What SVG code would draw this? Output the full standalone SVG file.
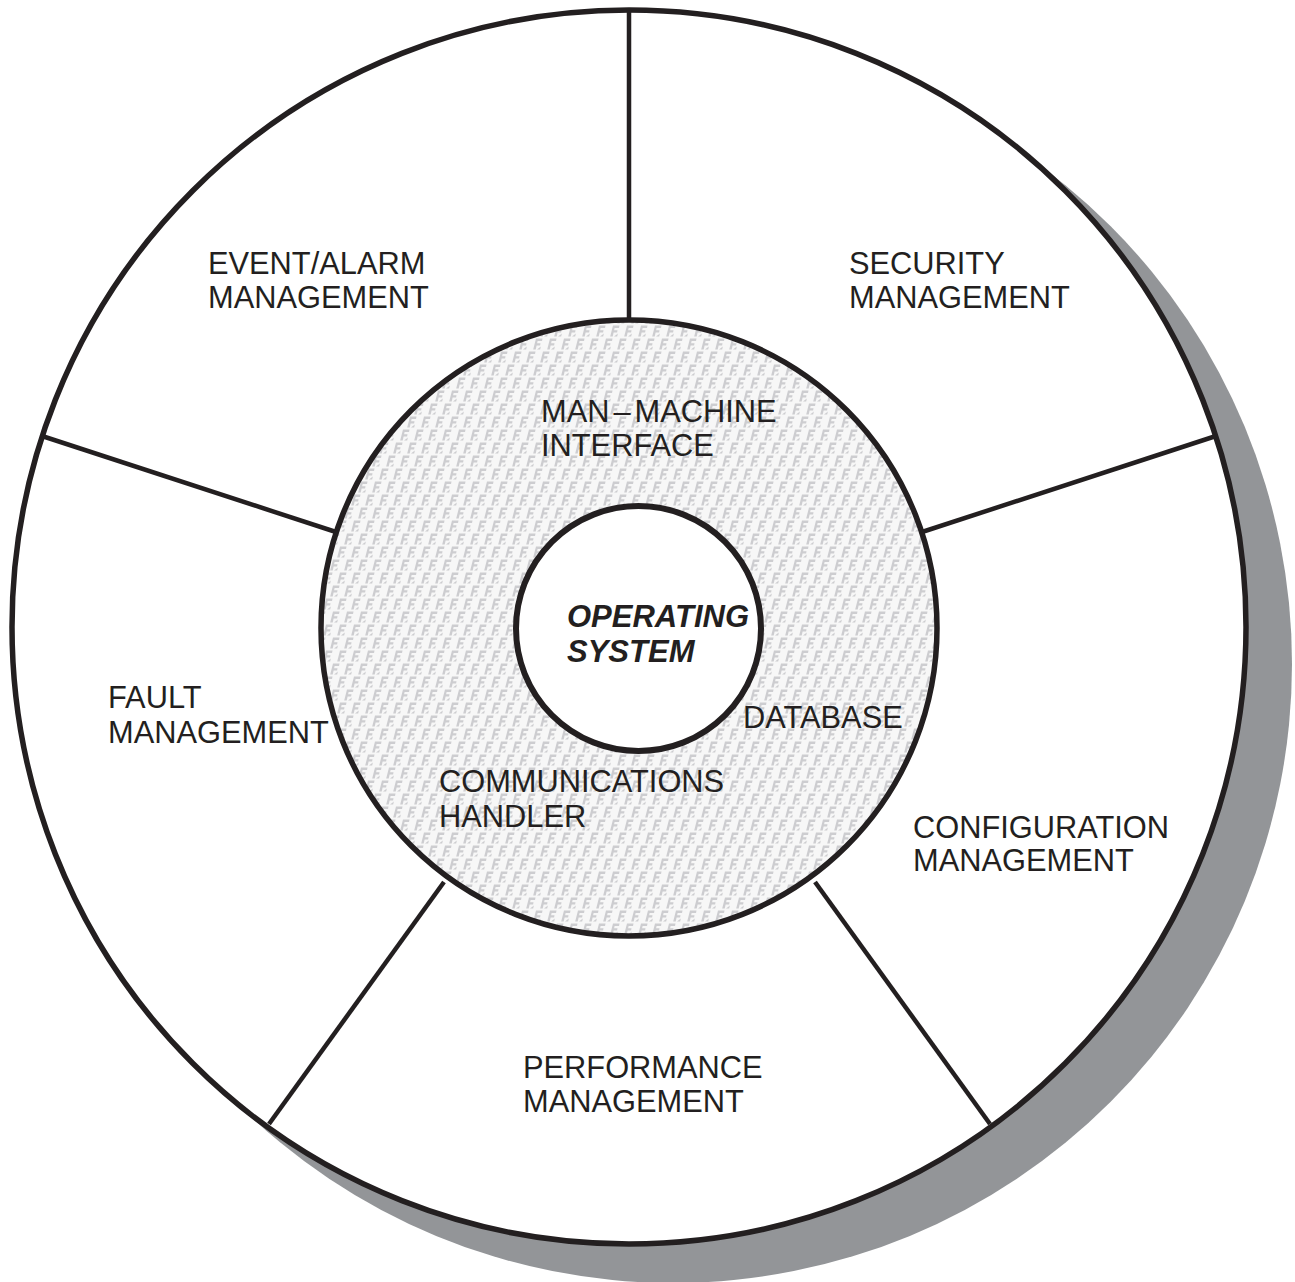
<svg xmlns="http://www.w3.org/2000/svg" width="1295" height="1282" viewBox="0 0 1295 1282">
<style>
.lbl{font-family:"Liberation Sans",Arial,sans-serif;font-size:30.8px;fill:#231f20}
.os{font-family:"Liberation Sans",Arial,sans-serif;font-size:31px;font-weight:bold;font-style:italic;fill:#231f20}
.ln{stroke:#231f20;stroke-width:4.5;fill:none}
.ring{stroke:#231f20;stroke-width:5.5}
</style>
<defs>
<pattern id="tex" width="14" height="26" patternUnits="userSpaceOnUse">
<rect width="14" height="26" fill="#f7f7f7"/>
<path id="g" d="M4 0.5 L10.5 0.5 L10 3 L5.6 3 L5.1 5.2 L8.5 5.2 L8.1 7.4 L4.6 7.4 L3.7 11.5 L1.2 11.5 Z M5 11.5 L8.8 8.6 L8.2 11.5 Z" fill="#cdcdd0"/>
<use href="#g" x="7" y="13"/>
<use href="#g" x="-7" y="13"/>
<use href="#g" x="0" y="26"/>
<use href="#g" x="0" y="-26"/>
<use href="#g" x="7" y="-13"/>
<use href="#g" x="-7" y="-13"/>
</pattern>
</defs>
<g id="shadow">
<circle cx="673" cy="664" r="619" fill="#939598"/>
</g>
<g id="outer">
<circle cx="629" cy="627" r="617" fill="#ffffff" class="ring"/>
</g>
<g id="connectors">
<line class="ln" x1="629" y1="10" x2="629" y2="320"/>
<line class="ln" x1="1216" y1="436" x2="922" y2="532"/>
<line class="ln" x1="42" y1="436" x2="336" y2="532"/>
<line class="ln" x1="990" y1="1124" x2="815" y2="882"/>
<line class="ln" x1="269" y1="1124" x2="444" y2="882"/>
</g>
<g id="middle">
<circle cx="629" cy="628" r="308" fill="url(#tex)" class="ring"/>
</g>
<g id="inner">
<circle cx="638.5" cy="628.5" r="122.5" fill="#ffffff" stroke="#231f20" stroke-width="6"/>
<text class="os" x="567" y="627">OPERATING</text>
<text class="os" x="567" y="662">SYSTEM</text>
</g>
<g id="event-alarm">
<text class="lbl" x="208" y="274">EVENT/ALARM</text>
<text class="lbl" x="208" y="308">MANAGEMENT</text>
</g>
<g id="security">
<text class="lbl" x="849" y="274">SECURITY</text>
<text class="lbl" x="849" y="308">MANAGEMENT</text>
</g>
<g id="fault">
<text class="lbl" x="108" y="708">FAULT</text>
<text class="lbl" x="108" y="743">MANAGEMENT</text>
</g>
<g id="configuration">
<text class="lbl" x="913" y="838">CONFIGURATION</text>
<text class="lbl" x="913" y="871">MANAGEMENT</text>
</g>
<g id="performance">
<text class="lbl" x="523" y="1078">PERFORMANCE</text>
<text class="lbl" x="523" y="1112">MANAGEMENT</text>
</g>
<g id="mmi">
<text class="lbl" x="541" y="422">MAN<tspan dx="4">–</tspan><tspan dx="4">MACHINE</tspan></text>
<text class="lbl" x="541" y="456">INTERFACE</text>
</g>
<g id="database">
<text class="lbl" x="743" y="728">DATABASE</text>
</g>
<g id="comm">
<text class="lbl" x="439" y="792">COMMUNICATIONS</text>
<text class="lbl" x="439" y="827">HANDLER</text>
</g>
</svg>
